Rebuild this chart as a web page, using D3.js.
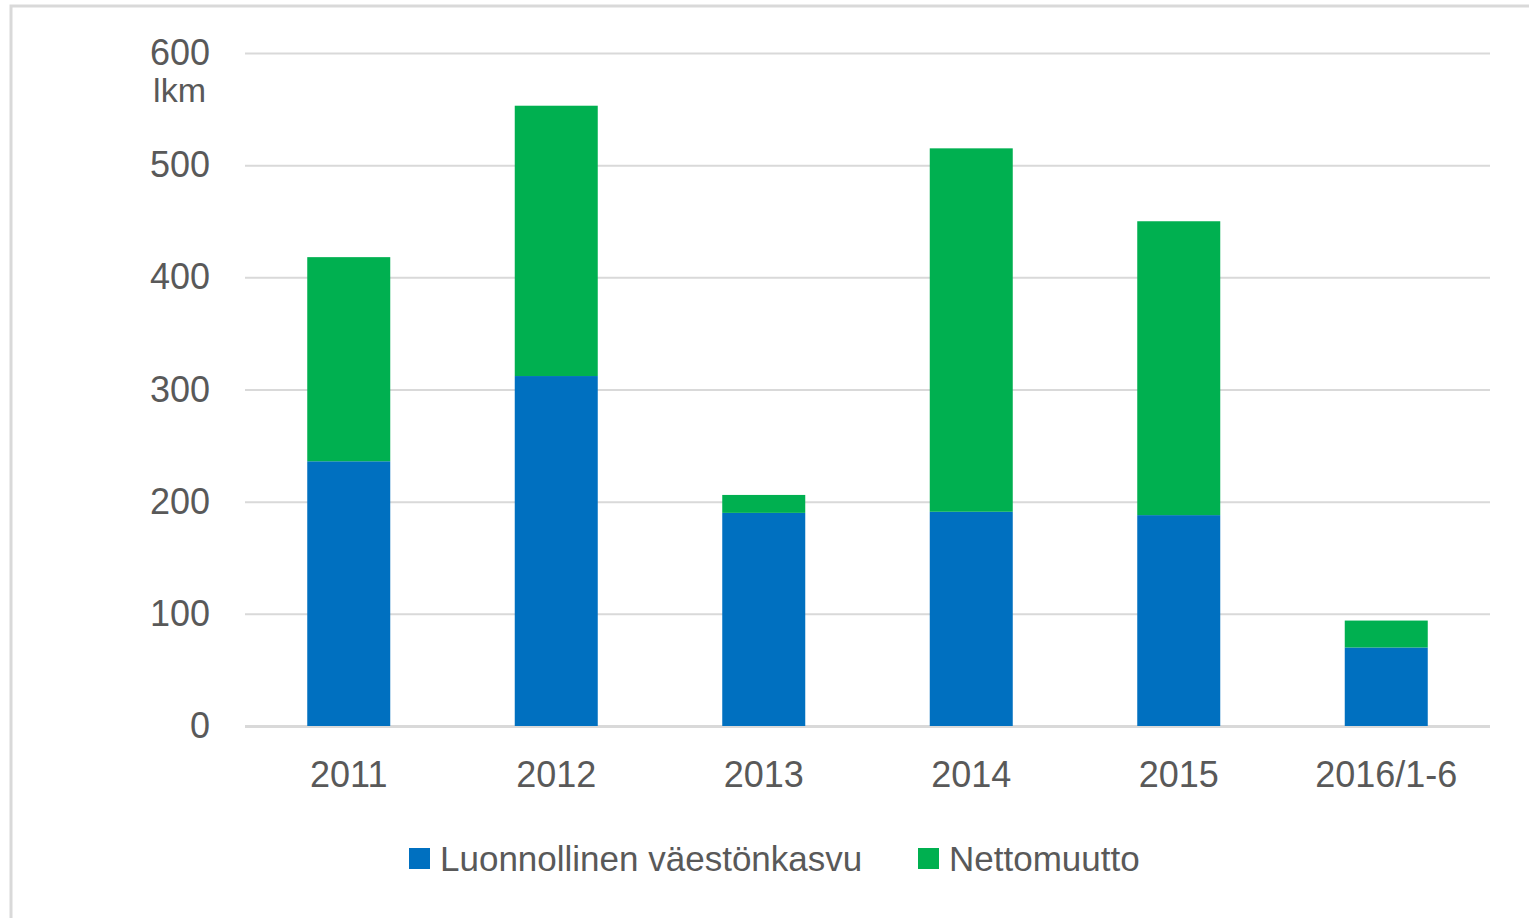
<!DOCTYPE html>
<html>
<head>
<meta charset="utf-8">
<script src="https://cdn.jsdelivr.net/npm/d3@7"></script>
<style>
  body { margin: 0; background: #fff; }
  text { font-family: "Liberation Sans", Arial, sans-serif; fill: #595959; }
</style>
</head>
<body>
<div id="chart"></div>
<script>
// data
var years = ["2011", "2012", "2013", "2014", "2015", "2016/1-6"];
var luonnollinen = [236, 312, 190, 191, 188, 70];   // blue, bottom
var nettomuutto = [182, 241, 16, 324, 262, 24];     // green, on top
var yTicks = [0, 100, 200, 300, 400, 500, 600];
var seriesNames = ["Luonnollinen väestönkasvu", "Nettomuutto"];
var colors = ["#0070c0", "#00b050"];

const width = 1529, height = 918;
const plot = {left: 245, right: 1490, top: 53, bottom: 726};

const svg = d3.select("#chart").append("svg")
    .attr("width", width)
    .attr("height", height);

// light frame round the chart (runs off the right and bottom edge)
svg.append("rect")
    .attr("x", 11).attr("y", 6)
    .attr("width", 1560).attr("height", 960)
    .attr("fill", "none")
    .attr("stroke", "#d9d9d9")
    .attr("stroke-width", 3);

const xScale = d3.scaleBand()
    .domain(years)
    .range([plot.left, plot.right])
    .paddingInner(0.6)
    .paddingOuter(0.3);

const yScale = d3.scaleLinear()
    .domain([0, 600])
    .range([plot.bottom, plot.top]);

// gridlines + y labels
const yAxis = d3.axisLeft(yScale)
    .tickValues(yTicks)
    .tickSize(-(plot.right - plot.left))
    .tickPadding(35);

const gy = svg.append("g")
    .attr("transform", `translate(${plot.left},0)`)
    .call(yAxis);
gy.select(".domain").remove();
gy.selectAll(".tick line")
    .attr("stroke", "#d9d9d9")
    .attr("stroke-width", d => d === 0 ? 3 : 2);
gy.selectAll(".tick text")
    .style("font-size", "36px")
    .attr("fill", "#595959")
    .style("font-family", "'Liberation Sans', Arial, sans-serif");

// unit label under the top tick
svg.append("text")
    .attr("x", 206)
    .attr("y", 102)
    .attr("text-anchor", "end")
    .style("font-size", "34px")
    .text("lkm");

// stacked bars
var stackData = years.map((y, i) => ({year: y, a: luonnollinen[i], b: nettomuutto[i]}));
var stacked = d3.stack().keys(["a", "b"])(stackData);

svg.append("g").selectAll("g")
    .data(stacked)
    .enter().append("g")
    .attr("fill", (d, i) => colors[i])
    .selectAll("rect")
    .data(d => d)
    .enter().append("rect")
    .attr("x", d => xScale(d.data.year))
    .attr("width", xScale.bandwidth())
    .attr("y", d => yScale(d[1]))
    .attr("height", d => yScale(d[0]) - yScale(d[1]));

// x labels
const xAxis = d3.axisBottom(xScale).tickSize(0).tickPadding(35);
const gx = svg.append("g")
    .attr("transform", `translate(0,${plot.bottom})`)
    .call(xAxis);
gx.select(".domain").remove();
gx.selectAll(".tick text")
    .style("font-size", "36px")
    .attr("fill", "#595959")
    .style("font-family", "'Liberation Sans', Arial, sans-serif");

// legend
var legendX = [409, 918];
const legend = svg.append("g");
seriesNames.forEach(function (name, i) {
    legend.append("rect")
        .attr("x", legendX[i]).attr("y", 848)
        .attr("width", 21).attr("height", 21)
        .attr("fill", colors[i]);
    legend.append("text")
        .attr("x", legendX[i] + 31)
        .attr("y", 871)
        .style("font-size", "35px")
        .text(name);
});
</script>
</body>
</html>
